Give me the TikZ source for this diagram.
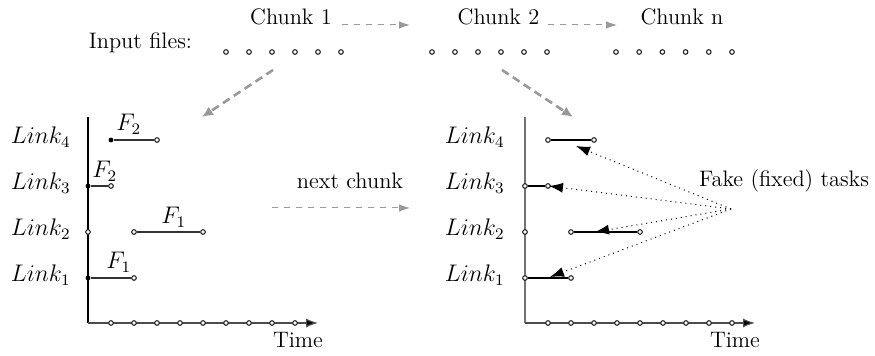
\documentclass[tikz,border=0pt]{standalone}
\usetikzlibrary{arrows.meta}
\begin{document}
\begin{tikzpicture}[x=0.5pt,y=-0.5pt,
  txt/.style={font=\fontsize{11.2}{13}\selectfont, inner sep=0pt},
  lnk/.style={font=\fontsize{12}{14}\selectfont, inner sep=0pt, anchor=base east},
  flab/.style={font=\fontsize{11.5}{13}\selectfont, inner sep=0pt, anchor=base west},
  tick/.style={circle, draw=black!85, fill=white, inner sep=0pt, minimum size=2.3pt, line width=0.55pt},
  dot/.style={circle, fill=black, inner sep=0pt, minimum size=2.4pt},
  chunkarrow/.style={draw=black!40, line width=0.5pt, dashed, -{Latex[length=5.5pt,width=3.8pt,fill=black!40]}},
  bigarrow/.style={draw=black!40, line width=1.3pt, dash pattern=on 4pt off 2.5pt, -{Latex[length=5.5pt,width=5pt,fill=black!40]}},
  xaxis/.style={draw=black!70, line width=0.6pt, -{Latex[length=6pt,width=4.5pt,fill=black]}},
  task/.style={draw=black!80, line width=0.55pt},
  fixtask/.style={draw=black, line width=0.9pt},
  fakearrow/.style={draw=black, line width=0.5pt, dotted, -{Latex[length=7pt,width=5pt]}}
]
\useasboundingbox (0,0) rectangle (875,356);

% ---------- top: input files and chunks ----------
\node[txt] (inp) at (140.5,43) {Input files:};
\node[txt] (c1) at (291,17) {Chunk 1};
\node[txt] (c2) at (498.5,17) {Chunk 2};
\node[txt] (cn) at (682,17) {Chunk n};
\foreach \i in {0,...,5} {
  \node[tick] (fa\i) at ({226+23*\i},52) {};
  \node[tick] (fb\i) at ({432+23*\i},52) {};
  \node[tick] (fc\i) at ({616+23.2*\i},52) {};
}
\coordinate (c1e) at (342,25);
\coordinate (c2s) at (410,25);
\coordinate (c2e) at (548,25);
\coordinate (cns) at (617,25);
\draw[chunkarrow] (c1e) -- (c2s);
\draw[chunkarrow] (c2e) -- (cns);

\coordinate (d1s) at (273,70);
\coordinate (d1e) at (202,117);
\coordinate (d2s) at (502,70);
\coordinate (d2e) at (573,117);
\draw[bigarrow] (d1s) -- (d1e);
\draw[bigarrow] (d2s) -- (d2e);

% ---------- left plot ----------
\coordinate (lo) at (88,323);
\coordinate (ltop) at (88,117);
\coordinate (lx) at (318,323);
\draw[black, line width=0.6pt] (lo) -- (ltop);
\draw[xaxis] (lo) -- (lx);
\foreach \k in {0,...,8} \node[tick] (lt\k) at ({111+23*\k},323) {};
\node[txt] (ltime) at (298,340) {Time};

\node[lnk] (ll4) at (71,144) {$Link_4$};
\node[lnk] (ll3) at (71,190) {$Link_3$};
\node[lnk] (ll2) at (71,236) {$Link_2$};
\node[lnk] (ll1) at (71,282) {$Link_1$};

% Link4
\node[dot] (l4a) at (111,140) {};
\node[tick] (l4b) at (157,140) {};
\draw[task] (l4a) -- (l4b);
\node[flab] (f4) at (116,131) {$F_2$};
% Link3
\node[dot] (l3a) at (88,186) {};
\node[tick] (l3b) at (111,186) {};
\draw[task] (l3a) -- (l3b);
\node[flab] (f3) at (92,178) {$F_2$};
% Link2
\node[tick] (l2o) at (88,232) {};
\node[tick] (l2a) at (134,232) {};
\node[tick] (l2b) at (203,232) {};
\draw[task] (l2a) -- (l2b);
\node[flab] (f2) at (161,224) {$F_1$};
% Link1
\node[dot] (l1a) at (88,278) {};
\node[tick] (l1b) at (134,278) {};
\draw[task] (l1a) -- (l1b);
\node[flab] (f1) at (106,269) {$F_1$};

% next chunk
\node[txt] (nc) at (350,181) {next chunk};
\coordinate (ncs) at (272,208);
\coordinate (nce) at (410,208);
\draw[chunkarrow] (ncs) -- (nce);

% ---------- right plot ----------
\coordinate (ro) at (525,323);
\coordinate (rtop) at (525,117);
\coordinate (rx) at (755,323);
\draw[black!55, line width=0.8pt] (ro) -- (rtop);
\draw[xaxis] (ro) -- (rx);
\foreach \k in {0,...,8} \node[tick] (rt\k) at ({548+23*\k},323) {};
\node[txt] (rtime) at (735,340) {Time};

\node[lnk] (rl4) at (505,144) {$Link_4$};
\node[lnk] (rl3) at (505,190) {$Link_3$};
\node[lnk] (rl2) at (505,236) {$Link_2$};
\node[lnk] (rl1) at (505,282) {$Link_1$};

\node[tick] (r4a) at (548,140) {};
\node[tick] (r4b) at (594,140) {};
\draw[fixtask] (r4a) -- (r4b);
\node[tick] (r3a) at (525,186) {};
\node[tick] (r3b) at (548,186) {};
\draw[fixtask] (r3a) -- (r3b);
\node[tick] (r2o) at (525,232) {};
\node[tick] (r2a) at (571,232) {};
\node[tick] (r2b) at (640,232) {};
\draw[fixtask] (r2a) -- (r2b);
\node[tick] (r1a) at (525,278) {};
\node[tick] (r1b) at (571,278) {};
\draw[fixtask] (r1a) -- (r1b);

\node[txt] (fake) at (784,181) {Fake (fixed) tasks};
\coordinate (src) at (731,209);
\coordinate (t4) at (576,146);
\coordinate (t3) at (549,186);
\coordinate (t2) at (595,232);
\coordinate (t1) at (550,277);
\draw[fakearrow] (src) -- (t4);
\draw[fakearrow] (src) -- (t3);
\draw[fakearrow] (src) -- (t2);
\draw[fakearrow] (src) -- (t1);
\end{tikzpicture}
\end{document}
